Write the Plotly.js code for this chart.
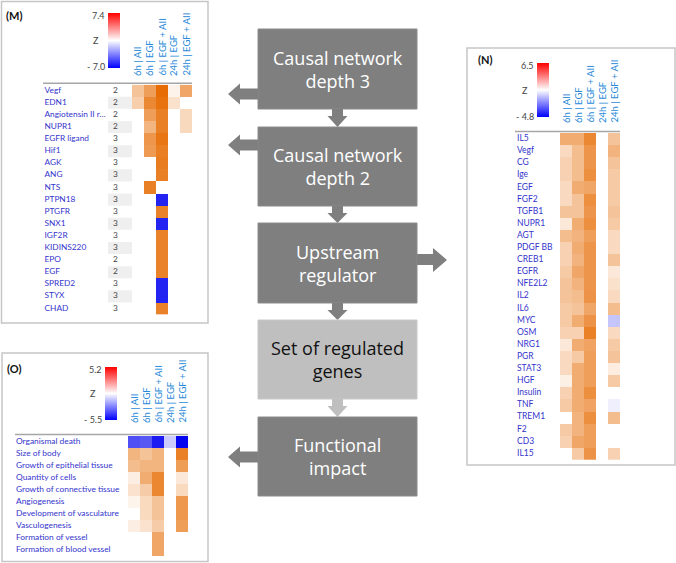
<!DOCTYPE html>
<html><head><meta charset="utf-8">
<script src="https://cdn.plot.ly/plotly-3.0.1.min.js"></script>
<style>html,body{margin:0;padding:0;background:#fff}#chart{width:676px;height:563px}</style>
</head><body><div id="chart"></div>
<script>
// ---------- DATA ----------
const colLabels = ['6h | AII', '6h | EGF', '6h | EGF + AII', '24h | EGF', '24h | EGF + AII'];

// Panel M : causal network
const mRows = ['Vegf','EDN1','Angiotensin II r…','NUPR1','EGFR ligand','Hif1','AGK','ANG','NTS','PTPN18','PTGFR','SNX1','IGF2R','KIDINS220','EPO','EGF','SPRED2','STYX','CHAD'];
const mDepth = [2,2,2,2,3,3,3,3,3,3,3,3,3,3,2,2,3,3,3];
const m6hAII     = [3.0,2.4,null,null,null,null,null,null,null,null,null,null,null,null,null,null,null,null,null];
const m6hEGF     = [4.8,5.9,4.8,3.7,5.2,5.0,null,null,6.3,null,null,null,null,null,null,null,null,null,null];
const m6hEGFAII  = [7.3,7.0,6.3,6.3,6.8,6.4,6.5,6.3,null,-6.0,6.2,-6.0,6.2,6.2,6.2,6.2,-6.0,-6.0,6.2];
const m24hEGF    = [0.6,1.5,null,null,null,null,null,null,null,null,null,null,null,null,null,null,null,null,null];
const m24hEGFAII = [4.4,null,1.9,1.9,null,null,null,null,null,null,null,null,null,null,null,null,null,null,null];
const mZRange = [-7.0, 7.4];

// Panel N : upstream regulators
const nRows = ['IL5','Vegf','CG','Ige','EGF','FGF2','TGFB1','NUPR1','AGT','PDGF BB','CREB1','EGFR','NFE2L2','IL2','IL6','MYC','OSM','NRG1','PGR','STAT3','HGF','Insulin','TNF','TREM1','F2','CD3','IL15'];
const n6hAII     = [3.6,1.6,2.0,2.0,1.6,1.6,2.6,1.0,2.9,2.0,2.0,2.3,2.6,2.6,2.3,2.3,2.0,1.0,1.6,1.6,0.7,2.0,2.3,null,2.3,2.0,null];
const n6hEGF     = [3.6,2.9,2.9,2.9,3.6,2.6,2.6,3.6,3.3,3.6,3.3,3.9,3.3,2.9,2.6,3.6,2.0,3.6,2.3,3.6,3.6,3.6,3.6,3.3,3.3,3.9,2.3];
const n6hEGFAII  = [5.2,4.6,4.6,4.9,3.9,4.9,4.6,4.9,4.2,4.6,4.6,4.6,4.6,4.7,3.9,4.7,5.5,4.0,4.2,4.2,4.2,4.9,4.0,4.9,4.2,4.2,4.7];
const n24hEGF    = [null,null,null,null,null,null,null,null,null,null,null,null,null,null,null,null,null,null,null,null,null,null,null,null,null,null,null];
const n24hEGFAII = [2.6,3.3,2.6,2.3,2.3,2.3,2.6,2.3,1.6,1.6,2.6,1.0,1.3,1.6,2.9,-1.1,1.6,2.3,2.6,0.8,2.3,null,-0.3,2.9,null,null,2.0];
const nZRange = [-4.8, 6.5];

// Panel O : functional impact
const oRows = ['Organismal death','Size of body','Growth of epithelial tissue','Quantity of cells','Growth of connective tissue','Angiogenesis','Development of vasculature','Vasculogenesis','Formation of vessel','Formation of blood vessel'];
const o6hAII     = [-3.8,2.6,2.3,0.6,1.0,0.4,null,0.6,null,null];
const o6hEGF     = [-3.6,2.1,2.6,2.9,1.8,1.3,1.3,1.0,null,null];
const o6hEGFAII  = [-4.9,2.6,2.6,4.2,4.2,2.1,2.1,1.8,3.1,3.1];
const o24hEGF    = [-1.1,null,null,null,null,null,null,null,null,null];
const o24hEGFAII = [-5.4,4.4,3.4,0.8,1.3,3.6,3.6,3.4,null,null];
const oZRange = [-5.5, 5.2];

// Flowchart
const flowSteps = ['Causal network<br>depth 3','Causal network<br>depth 2','Upstream<br>regulator','Set of regulated<br>genes','Functional<br>impact'];

// ---------- LAYOUT HELPERS ----------
const W = 676, H = 563;
const fx = p => p / W;
const fy = p => 1 - p / H;
const FONT = 'Lato, "Open Sans", sans-serif';
const ROWBLUE = '#3434cc';
const COLBLUE = '#2a8ad8';

function heatScale(r){
  const z0 = -r[0] / (r[1] - r[0]);
  return [[0,'#0000f0'],[z0,'#ffffff'],[1,'#e66a00']];
}
const cbScale = [[0,'#0000ff'],[0.5,'#ffffff'],[1,'#ff0000']];
const fmt = v => v < 0 ? '- ' + Math.abs(v).toFixed(1) : v.toFixed(1);

const traces = [], shapes = [], annotations = [], layout = {};

function panel(cfg){
  const n = cfg.rows.length;
  const span = (cfg.x1 - cfg.x0) / cfg.unit;
  const xr = [4.5 - span, 4.5];
  const xa = 'xaxis' + cfg.id, ya = 'yaxis' + cfg.id;
  const xs = 'x' + cfg.id, ys = 'y' + cfg.id;
  layout[xa] = {domain:[fx(cfg.x0), fx(cfg.x1)], range:xr, visible:false, fixedrange:true};
  layout[ya] = {domain:[fy(cfg.rowTop + n*cfg.rowH), fy(cfg.rowTop)], range:[n-0.5, -0.5], visible:false, fixedrange:true};
  const idx = cfg.rows.map((_, i) => i);
  const z = idx.map(i => cfg.cols.map(c => c[i]));
  traces.push({type:'heatmap', x:[0,1,2,3,4], y:idx, z:z, xaxis:xs, yaxis:ys,
    colorscale:heatScale(cfg.range), zmin:cfg.range[0], zmax:cfg.range[1],
    showscale:false, hoverongaps:false, xgap:0, ygap:0});
  const toX = p => xr[0] + (p - cfg.x0) / cfg.unit;
  // row labels
  traces.push({type:'scatter', mode:'text', x:idx.map(() => toX(cfg.labelPx)), y:idx,
    text:cfg.rows, textposition:'middle right', xaxis:xs, yaxis:ys, hoverinfo:'skip',
    textfont:{family:FONT, size:cfg.fs, color:ROWBLUE}, showlegend:false});
  // depth column
  if (cfg.depth){
    idx.forEach(i => { if (i % 2 === 1) shapes.push({type:'rect', xref:xs, yref:ys,
      x0:toX(108), x1:toX(132), y0:i-0.5, y1:i+0.5, fillcolor:'#efefef', line:{width:0}, layer:'below'}); });
    traces.push({type:'scatter', mode:'text', x:idx.map(() => toX(115.5)), y:idx,
      text:cfg.depth.map(String), textposition:'middle center', xaxis:xs, yaxis:ys, hoverinfo:'skip',
      textfont:{family:FONT, size:cfg.fs, color:'#444'}, showlegend:false});
  }
  // header line
  shapes.push({type:'line', xref:'paper', yref:'paper', x0:fx(cfg.lineX0), x1:fx(cfg.x1),
    y0:fy(cfg.rowTop-1.5), y1:fy(cfg.rowTop-1.5), line:{color:'#a6a6a6', width:1.5}});
  // column labels
  colLabels.forEach((t, i) => annotations.push({xref:xs, yref:'paper', x:i, y:fy(cfg.colBottom),
    xanchor:'center', yanchor:'bottom', textangle:-90, text:t, showarrow:false, borderpad:0,
    font:{family:FONT, size:9.5, color:COLBLUE}}));
  // colorbar (legend of z)
  traces.push({type:'scatter', mode:'markers', x:[0,0], y:[0,0], xaxis:xs, yaxis:ys, hoverinfo:'skip', showlegend:false,
    marker:{color:cfg.range, colorscale:cbScale, cmin:cfg.range[0], cmax:cfg.range[1], opacity:0, showscale:true,
      colorbar:{x:fx(cfg.cb[0]), xanchor:'left', y:fy(cfg.cb[1]), yanchor:'top', len:cfg.cb[2], lenmode:'pixels',
        thickness:12, thicknessmode:'pixels', outlinewidth:0, showticklabels:false, ticks:'', xpad:0, ypad:0}}});
  annotations.push({xref:'paper', yref:'paper', x:fx(cfg.cb[0]-1), y:fy(cfg.cb[1]+2), xanchor:'right', yanchor:'middle',
    text:fmt(cfg.range[1]), showarrow:false, font:{family:FONT, size:9, color:'#444'}});
  annotations.push({xref:'paper', yref:'paper', x:fx(cfg.cb[0]-7), y:fy(cfg.cb[1]+cfg.cb[2]/2), xanchor:'right', yanchor:'middle',
    text:'Z', showarrow:false, font:{family:FONT, size:9, color:'#444'}});
  annotations.push({xref:'paper', yref:'paper', x:fx(cfg.cb[0]-1), y:fy(cfg.cb[1]+cfg.cb[2]-1), xanchor:'right', yanchor:'middle',
    text:fmt(cfg.range[0]), showarrow:false, font:{family:FONT, size:9, color:'#444'}});
  // panel frame & letter
  shapes.push({type:'rect', xref:'paper', yref:'paper', x0:fx(cfg.box[0]), y0:fy(cfg.box[1]), x1:fx(cfg.box[2]), y1:fy(cfg.box[3]),
    line:{color:'#c6c6c6', width:1.5}, fillcolor:'rgba(0,0,0,0)'});
  annotations.push({xref:'paper', yref:'paper', x:fx(cfg.letter[1]), y:fy(cfg.letter[2]), xanchor:'left', yanchor:'middle',
    text:'<b>' + cfg.letter[0] + '</b>', showarrow:false, font:{family:FONT, size:11, color:'#111'}});
}

panel({id:'', rows:mRows, depth:mDepth, cols:[m6hAII,m6hEGF,m6hEGFAII,m24hEGF,m24hEGFAII], range:mZRange,
  x0:42, x1:192, unit:12, rowTop:84.65, rowH:12.1, labelPx:44.5, lineX0:43, fs:8.3, colBottom:77,
  cb:[108,13,55], box:[1.5,1.5,208,323], letter:['(M)',4,15]});
panel({id:'2', rows:nRows, cols:[n6hAII,n6hEGF,n6hEGFAII,n24hEGF,n24hEGFAII], range:nZRange,
  x0:515, x1:620, unit:12, rowTop:132.95, rowH:12.1, labelPx:517, lineX0:515, fs:8.5, colBottom:124,
  cb:[537,63,54], box:[467,48,675,465], letter:['(N)',476,60]});
panel({id:'3', rows:oRows, cols:[o6hAII,o6hEGF,o6hEGFAII,o24hEGF,o24hEGFAII], range:oZRange,
  x0:15, x1:188, unit:12, rowTop:436, rowH:12, labelPx:16, lineX0:15, fs:8.4, colBottom:424,
  cb:[105,367,53], box:[2,353,208,561.5], letter:['(O)',5,368]});

// ---------- FLOWCHART ----------
const DARK = '#7f7f7f', LIGHT = '#bfbfbf';
const boxX = [258, 417];
const boxY = [[29,109],[127,206],[223,303],[320,399],[417,496]];
const boxFill = [DARK, DARK, DARK, LIGHT, DARK];
const boxText = ['#ffffff','#ffffff','#ffffff','#111111','#ffffff'];
const P = (x, y) => fx(x).toFixed(5) + ',' + fy(y).toFixed(5);
flowSteps.forEach((t, i) => {
  shapes.push({type:'rect', xref:'paper', yref:'paper', x0:fx(boxX[0]), x1:fx(boxX[1]), y0:fy(boxY[i][0]), y1:fy(boxY[i][1]),
    fillcolor:boxFill[i], line:{color: i === 3 ? '#c8c8c8' : '#8c8c8c', width:1}});
  annotations.push({xref:'paper', yref:'paper', x:fx((boxX[0]+boxX[1])/2), y:fy((boxY[i][0]+boxY[i][1])/2),
    xanchor:'center', yanchor:'middle', text:t, showarrow:false,
    font:{family:'"Open Sans", sans-serif', size:18, color:boxText[i]}});
  if (i < flowSteps.length - 1){
    const top = boxY[i][1], bot = boxY[i+1][0], cx = (boxX[0]+boxX[1])/2;
    const col = i === 3 ? LIGHT : DARK;
    shapes.push({type:'path', xref:'paper', yref:'paper', fillcolor:col, line:{width:0},
      path:'M' + P(cx-5.5, top) + ' L' + P(cx+5.5, top) + ' L' + P(cx+5.5, top+7) + ' L' + P(cx+10, top+7) +
           ' L' + P(cx, bot) + ' L' + P(cx-10, top+7) + ' L' + P(cx-5.5, top+7) + ' Z'});
  }
});
// side arrows: left from steps 1,2,5 ; right from step 3
function leftArrow(cy){
  shapes.push({type:'path', xref:'paper', yref:'paper', fillcolor:DARK, line:{width:0},
    path:'M' + P(258, cy-5.5) + ' L' + P(240, cy-5.5) + ' L' + P(240, cy-10.5) + ' L' + P(228, cy) +
         ' L' + P(240, cy+10.5) + ' L' + P(240, cy+5.5) + ' L' + P(258, cy+5.5) + ' Z'});
}
leftArrow(94); leftArrow(145); leftArrow(457);
shapes.push({type:'path', xref:'paper', yref:'paper', fillcolor:DARK, line:{width:0},
  path:'M' + P(417, 254) + ' L' + P(433, 254) + ' L' + P(433, 248) + ' L' + P(447, 260) +
       ' L' + P(433, 272) + ' L' + P(433, 265) + ' L' + P(417, 265) + ' Z'});

Object.assign(layout, {width:W, height:H, margin:{l:0,r:0,t:0,b:0}, paper_bgcolor:'#ffffff', plot_bgcolor:'rgba(0,0,0,0)',
  showlegend:false, shapes:shapes, annotations:annotations, font:{family:FONT}});

Plotly.newPlot('chart', traces, layout, {displayModeBar:false, staticPlot:true});
</script></body></html>
